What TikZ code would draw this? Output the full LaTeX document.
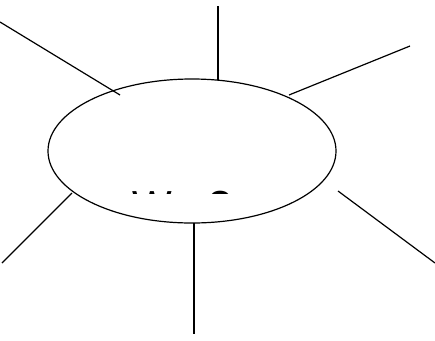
\documentclass[tikz,border=0pt]{standalone}
\usepackage{fontspec}
\setmainfont{Liberation Sans}
\usetikzlibrary{shapes.geometric}
\tikzset{
  ray/.style={draw=black, line width=1.2bp},
  bubble/.style={ellipse, draw=black, line width=1.2bp, fill=white, minimum width=288bp, minimum height=144bp, inner sep=0pt},
  lbl/.style={font=\fontsize{42bp}{46bp}\selectfont, inner sep=0pt, anchor=base west}
}
\begin{document}
\begin{tikzpicture}[x=1bp, y=-1bp]
\path[fill=white, use as bounding box] (0,0) rectangle (435,340);
\node[bubble] (c) at (192,151) {};
\begin{scope}
\clip (100,190) rectangle (260,193.5);
\node[lbl] (t) at (132,220) {Wer?};
\end{scope}
\coordinate (a1) at (0,22);   \coordinate (a2) at (120,95);
\coordinate (b1) at (218,6);  \coordinate (b2) at (218,80);
\coordinate (d1) at (410,46); \coordinate (d2) at (289,95);
\coordinate (e1) at (338,191);\coordinate (e2) at (435,263);
\coordinate (f1) at (194,223);\coordinate (f2) at (194,334);
\coordinate (g1) at (72,193); \coordinate (g2) at (2,263);
\draw[ray] (a1) -- (a2);
\draw[ray] (b1) -- (b2);
\draw[ray] (d1) -- (d2);
\draw[ray] (e1) -- (e2);
\draw[ray] (f1) -- (f2);
\draw[ray] (g1) -- (g2);
\end{tikzpicture}
\end{document}
